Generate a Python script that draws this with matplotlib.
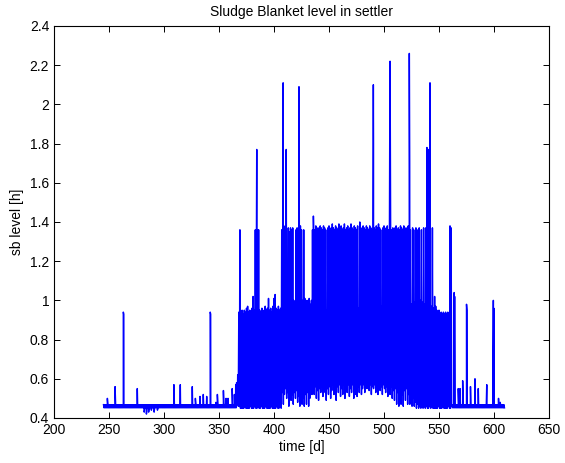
"""Sludge blanket level in settler, redrawn from the reference figure."""

import matplotlib

matplotlib.use("Agg")
import matplotlib.pyplot as plt
import numpy as np

# quiet stretches: level sits in a thin band around 0.46
quiet_spans = [(245, 365), (562, 609)]
quiet_hi = 0.468
quiet_lo = 0.452

# busy stretch, one high / low pair per day starting at day 366
dense_start = 366
dense_hi = [
    0.58, 0.62, 0.94, 1.36, 0.94, 0.95, 0.93, 0.95, 0.94, 0.96,
    0.97, 0.94, 0.95, 0.93, 0.96, 1.02, 0.95, 1.36, 1.39, 1.36,
    1.36, 0.95, 0.94, 0.96, 0.94, 0.95, 0.97, 0.95, 0.96, 1.01,
    0.95, 0.96, 0.94, 0.97, 1.01, 1.03, 0.96, 0.95, 0.97, 0.95,
    0.96, 1.36, 1.36, 1.38, 1.36, 1.36, 0.98, 1.37, 1.35, 1.37,
    1.36, 1.37, 1.00, 0.98, 1.36, 1.37, 1.36, 1.36, 1.38, 1.36,
    1.00, 1.36, 1.01, 0.98, 1.00, 0.99, 1.01, 0.98, 1.00, 1.36,
    1.37, 1.36, 1.38, 1.00, 1.37, 1.36, 1.38, 1.37, 1.36, 1.38,
    1.37, 1.36, 0.95, 1.37, 1.38, 1.36, 1.37, 1.39, 1.37, 1.36,
    1.38, 1.37, 1.36, 1.39, 1.37, 1.38, 1.36, 1.37, 1.39, 1.36,
    1.37, 1.38, 1.36, 1.37, 1.39, 1.37, 1.36, 1.38, 1.37, 1.36,
    1.38, 0.96, 1.40, 1.37, 1.36, 1.38, 1.37, 1.36, 1.38, 1.37,
    1.36, 1.38, 1.37, 1.36, 1.38, 1.37, 1.36, 1.38, 1.37, 1.39,
    1.37, 1.36, 0.97, 1.37, 1.38, 1.36, 1.37, 1.38, 1.36, 1.37,
    1.38, 1.36, 1.37, 1.00, 1.37, 1.38, 1.36, 1.37, 1.36, 1.38,
    1.37, 1.36, 1.38, 0.99, 1.37, 1.36, 1.38, 1.37, 1.36, 0.98,
    1.37, 1.36, 0.99, 1.37, 1.36, 0.98, 1.37, 1.00, 1.36, 0.99,
    1.37, 0.98, 1.37, 1.78, 1.77, 1.36, 0.99, 0.97, 1.37, 0.96,
    1.02, 0.97, 0.95, 0.94, 0.95, 0.93, 0.94, 0.93, 0.94, 0.93,
    0.94, 0.93, 0.94, 0.93, 1.38, 1.37,
]
dense_lo = [
    0.47, 0.46, 0.46, 0.45, 0.45, 0.45, 0.45, 0.46, 0.45, 0.45,
    0.45, 0.45, 0.46, 0.45, 0.45, 0.45, 0.46, 0.45, 0.45, 0.46,
    0.45, 0.45, 0.46, 0.45, 0.45, 0.45, 0.46, 0.45, 0.45, 0.45,
    0.45, 0.46, 0.45, 0.45, 0.45, 0.45, 0.46, 0.45, 0.45, 0.46,
    0.45, 0.53, 0.47, 0.52, 0.55, 0.50, 0.53, 0.46, 0.52, 0.49,
    0.52, 0.47, 0.53, 0.50, 0.54, 0.48, 0.51, 0.46, 0.52, 0.47,
    0.50, 0.46, 0.52, 0.47, 0.53, 0.46, 0.50, 0.55, 0.52, 0.55,
    0.52, 0.56, 0.50, 0.54, 0.49, 0.55, 0.53, 0.56, 0.51, 0.55,
    0.53, 0.49, 0.55, 0.52, 0.56, 0.50, 0.54, 0.57, 0.52, 0.55,
    0.49, 0.56, 0.53, 0.57, 0.51, 0.55, 0.52, 0.57, 0.50, 0.56,
    0.53, 0.57, 0.51, 0.55, 0.53, 0.57, 0.50, 0.55, 0.52, 0.51,
    0.56, 0.53, 0.57, 0.52, 0.55, 0.57, 0.53, 0.56, 0.55, 0.57,
    0.54, 0.57, 0.52, 0.56, 0.55, 0.57, 0.53, 0.56, 0.52, 0.57,
    0.54, 0.56, 0.52, 0.57, 0.55, 0.53, 0.56, 0.51, 0.55, 0.52,
    0.56, 0.50, 0.54, 0.49, 0.55, 0.47, 0.53, 0.46, 0.51, 0.47,
    0.52, 0.46, 0.54, 0.49, 0.55, 0.47, 0.52, 0.47, 0.53, 0.46,
    0.50, 0.46, 0.48, 0.45, 0.47, 0.45, 0.46, 0.45, 0.47, 0.45,
    0.46, 0.45, 0.46, 0.45, 0.45, 0.46, 0.45, 0.46, 0.45, 0.45,
    0.45, 0.45, 0.45, 0.46, 0.45, 0.45, 0.45, 0.46, 0.45, 0.45,
    0.45, 0.45, 0.46, 0.45, 0.45, 0.46,
]

# narrow excursions (day, level)
spike_t = [
    248.5, 255.5, 263.0, 263.4, 275.7, 282.0, 284.0, 286.0, 288.5, 291.0,
    294.0, 309.0, 314.8, 325.7, 328.5, 332.7, 335.7, 338.8, 342.0, 342.4,
    347.3, 348.5, 354.0, 356.4, 358.2, 362.0, 364.0, 365.2,
    384.3, 408.3, 411.1, 422.7, 435.8, 490.3, 490.45, 505.2, 505.5,
    523.0, 523.3, 541.8,
    563.8, 564.2, 567.5, 569.1, 571.5, 575.0, 575.4, 578.6, 582.7, 585.7,
    593.4, 599.4, 599.8, 604.1, 605.6,
]
spike_y = [
    0.50, 0.56, 0.94, 0.93, 0.55, 0.43, 0.42, 0.43, 0.44, 0.43,
    0.44, 0.57, 0.57, 0.56, 0.50, 0.51, 0.52, 0.51, 0.94, 0.93,
    0.48, 0.52, 0.54, 0.50, 0.50, 0.55, 0.52, 0.57,
    1.77, 2.11, 1.77, 2.09, 1.43, 2.10, 1.80, 1.82, 2.22,
    2.26, 1.70, 2.11,
    1.04, 1.02, 0.55, 0.55, 0.59, 0.98, 0.95, 0.56, 0.60, 0.55,
    0.57, 1.00, 0.96, 0.50, 0.48,
]

ts, ys = [], []
for start, end in quiet_spans:
    for day in range(start, end + 1):
        ts += [day, day + 0.5]
        ys += [quiet_hi, quiet_lo]
for i, (hi, lo) in enumerate(zip(dense_hi, dense_lo)):
    day = dense_start + i
    ts += [day, day + 0.5]
    ys += [hi, lo]
ts += spike_t
ys += spike_y
order = np.argsort(ts, kind="stable")
t = np.asarray(ts)[order]
y = np.asarray(ys)[order]

plt.rcParams["font.family"] = ["Liberation Sans", "DejaVu Sans"]
fig = plt.figure(figsize=(5.65, 4.63), dpi=100)
ax = fig.add_axes([0.0956, 0.0972, 0.8761, 0.8467])
ax.plot(t, y, color="#0000ff", linewidth=1.05)

ax.set_xlim(200, 650)
ax.set_ylim(0.4, 2.4)
ax.set_xticks(np.arange(200, 651, 50))
yticks = np.arange(0.4, 2.41, 0.2)
ax.set_yticks(yticks)
ax.set_yticklabels([f"{v:g}" for v in np.round(yticks, 1)])
ax.tick_params(direction="in", top=True, right=True, length=4, width=0.7, labelsize=10)
for spine in ax.spines.values():
    spine.set_linewidth(0.8)
ax.set_xlabel("time [d]", fontsize=10, labelpad=2)
ax.set_ylabel("sb level [h]", fontsize=10, labelpad=4)
ax.set_title("Sludge Blanket level in settler", fontsize=10, pad=7)

fig.savefig("out.png", dpi=100)
